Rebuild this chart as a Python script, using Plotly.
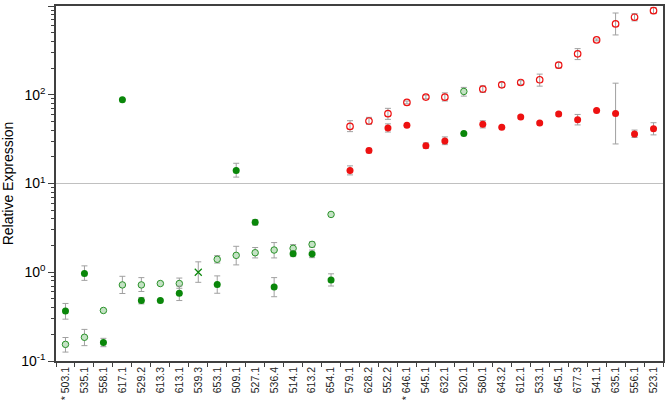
import plotly.graph_objects as go

categories = ["* 503.1", "535.1", "558.1", "617.1", "529.2", "613.3", "613.1", "539.3",
              "653.1", "509.1", "527.1", "536.4", "514.1", "613.2", "654.1", "579.1",
              "628.2", "552.2", "* 646.1", "545.1", "632.1", "520.1", "580.1", "643.2",
              "612.1", "533.1", "645.1", "677.3", "541.1", "635.1", "556.1", "523.1"]

# (category, value, upper, lower)
green_filled = [("* 503.1", 0.365, 0.445, 0.296), ("535.1", 0.97, 1.18, 0.81),
                ("558.1", 0.162, 0.18, 0.145), ("617.1", 88, 88, 88),
                ("529.2", 0.48, 0.52, 0.44), ("613.3", 0.48, 0.49, 0.47),
                ("613.1", 0.58, 0.70, 0.48), ("653.1", 0.73, 0.91, 0.58),
                ("509.1", 14.0, 16.9, 11.8), ("527.1", 3.67, 3.9, 3.4),
                ("536.4", 0.68, 0.87, 0.53), ("514.1", 1.62, 1.74, 1.5),
                ("613.2", 1.61, 1.78, 1.46), ("654.1", 0.82, 0.96, 0.70),
                ("520.1", 36.5, 36.5, 36.5)]

green_open = [("* 503.1", 0.154, 0.184, 0.126), ("535.1", 0.185, 0.227, 0.149),
              ("558.1", 0.371, 0.38, 0.36), ("617.1", 0.72, 0.90, 0.576),
              ("529.2", 0.72, 0.87, 0.607), ("613.3", 0.746, 0.76, 0.73),
              ("613.1", 0.746, 0.86, 0.66), ("653.1", 1.40, 1.54, 1.27),
              ("509.1", 1.55, 1.96, 1.21), ("527.1", 1.66, 1.9, 1.45),
              ("536.4", 1.78, 2.16, 1.45), ("514.1", 1.86, 2.05, 1.72),
              ("613.2", 2.06, 2.2, 1.92), ("654.1", 4.48, 4.6, 4.35),
              ("520.1", 108.9, 121, 96.5)]

green_cross = [("539.3", 1.0, 1.31, 0.77)]

red_open = [("579.1", 44, 51, 38.4), ("628.2", 50.6, 55.6, 46.4), ("552.2", 61.2, 70.3, 52.8),
            ("* 646.1", 81.9, 85, 79), ("545.1", 94.2, 99, 90), ("632.1", 94, 105, 85),
            ("580.1", 115.9, 126, 106), ("643.2", 129.5, 138, 121), ("612.1", 137.5, 144, 131),
            ("533.1", 147.5, 170.8, 125), ("645.1", 215.5, 231, 200), ("677.3", 289, 331, 249),
            ("541.1", 415, 425, 405), ("635.1", 628, 834, 472), ("556.1", 747, 820, 680),
            ("523.1", 885, 960, 820)]

red_filled = [("579.1", 14.0, 15.8, 12.5), ("628.2", 23.5, 24.9, 22.2), ("552.2", 42.2, 47, 38),
              ("* 646.1", 45.2, 45.2, 45.2), ("545.1", 26.7, 28.7, 24.9), ("632.1", 30.2, 33.5, 27.4),
              ("580.1", 46.4, 50.9, 42.3), ("643.2", 43, 44, 42), ("612.1", 56.2, 58, 54.5),
              ("533.1", 48.1, 49.5, 46.8), ("645.1", 60.7, 63, 58), ("677.3", 52.4, 60, 45.7),
              ("541.1", 66.6, 68, 65), ("635.1", 61.6, 135, 27.9), ("556.1", 36.2, 40, 33),
              ("523.1", 41.5, 48.4, 35.3)]

ERR = "#a0a0a0"
GREEN = "#0a870a"
RED = "#ee1111"


def series(rows, marker, name):
    x = [r[0] for r in rows]
    y = [r[1] for r in rows]
    up = [r[2] - r[1] for r in rows]
    dn = [r[1] - r[3] for r in rows]
    return go.Scatter(x=x, y=y, mode="markers", name=name, marker=marker,
                      error_y=dict(type="data", symmetric=False, array=up, arrayminus=dn,
                                   color=ERR, thickness=1, width=3),
                      showlegend=False)


fig = go.Figure()
fig.add_trace(series(green_open, dict(symbol="circle", size=6.5, color="#c4e2c4",
                                      line=dict(color="#2a922a", width=1)), "green open"))
fig.add_trace(series(green_filled, dict(symbol="circle", size=7, color=GREEN,
                                        line=dict(width=0)), "green filled"))
fig.add_trace(series(green_cross, dict(symbol="x-thin", size=7,
                                       line=dict(color=GREEN, width=1.2)), "green x"))
fig.add_trace(series(red_open, dict(symbol="circle-open", size=6.5, color=RED,
                                    line=dict(width=1.2)), "red open"))
fig.add_trace(series(red_filled, dict(symbol="circle", size=7, color=RED,
                                      line=dict(width=0)), "red filled"))

fig.add_hline(y=10, line=dict(color="#c0c0c0", width=1), layer="below")

minor_vals = [k * 10 ** e for e in range(-1, 3) for k in range(2, 10)]

fig.update_layout(
    width=668, height=408,
    margin=dict(l=56, r=5, t=6, b=47),
    paper_bgcolor="white", plot_bgcolor="white",
    font=dict(family="Liberation Sans, Arial, sans-serif", color="black"),
    xaxis=dict(type="category", categoryorder="array", categoryarray=categories,
               range=[-0.5, len(categories) - 0.5], automargin=False,
               tickangle=-90, tickfont=dict(size=10.5, color="#222222"), tickson="boundaries",
               ticks="outside", ticklen=4, tickcolor="#404040",
               showline=True, linecolor="#404040", linewidth=1.5, mirror=True,
               showgrid=False, zeroline=False),
    yaxis=dict(type="log", range=[-1, 3], automargin=False,
               tickvals=[0.1, 1, 10, 100, 1000],
               ticktext=["10<sup>-1</sup>", "10<sup>0</sup>", "10<sup>1</sup>",
                         "10<sup>2</sup>", "10<sup>3</sup>"],
               tickfont=dict(size=14), ticks="outside", ticklen=6, tickcolor="#404040",
               minor=dict(tickvals=minor_vals, ticks="outside", ticklen=3,
                          tickcolor="#404040", showgrid=False),
               showline=True, linecolor="#404040", linewidth=1.5, mirror=True,
               showgrid=False, zeroline=False,
               title=dict(text="Relative Expression", font=dict(size=14), standoff=8)),
)

fig.write_html("out.html", config={"displayModeBar": False},
               post_script="document.body.style.margin='0';")
